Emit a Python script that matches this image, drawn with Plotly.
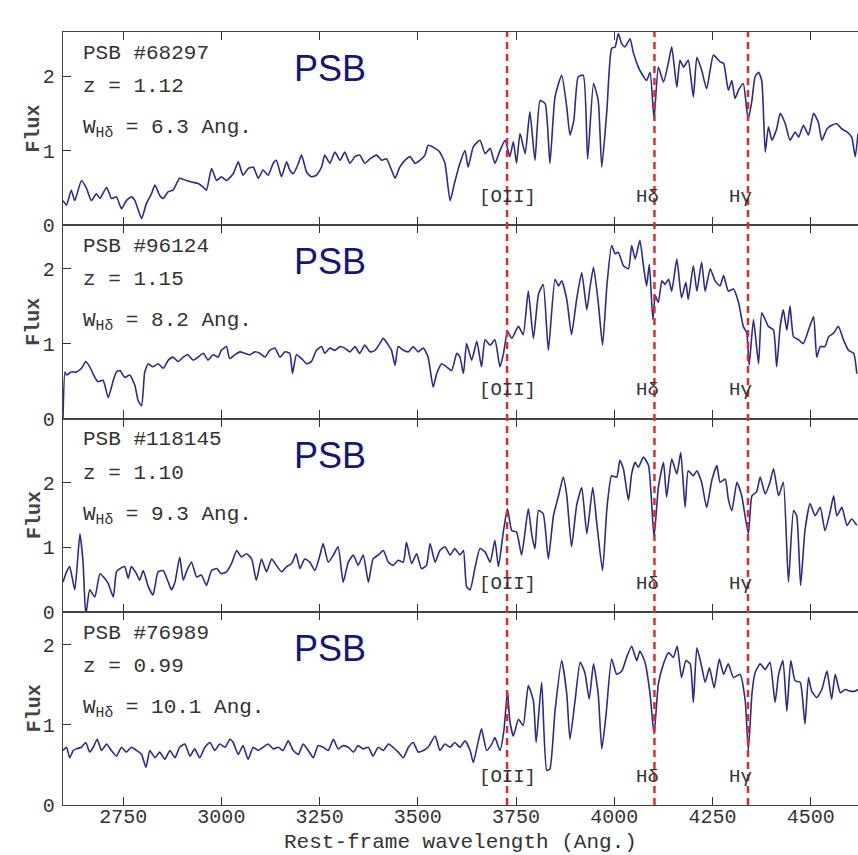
import plotly.graph_objects as go
from plotly.subplots import make_subplots

# ---------------- data ----------------
galaxy_ids = ["68297", "96124", "118145", "76989"]
redshifts = ["1.12", "1.15", "1.10", "0.99"]
w_hdelta = ["6.3", "8.2", "9.3", "10.1"]

line_names = ["[OII]", "H\u03b4", "H\u03b3"]
line_wavelengths = [3727, 4102, 4340]

x_ticks = [2750, 3000, 3250, 3500, 3750, 4000, 4250, 4500]
y_ticks = [0, 1, 2]

wl_68297 = [2597,2606,2618,2627,2644,2657,2669,2682,2691,2708,2720,2733,2746,2758,2771,2780,2797,2809,2822,2831,
            2843,2852,2865,2877,2894,2911,2924,2941,2954,2962,2975,2988,3000,3013,3030,3043,3055,3068,3081,3094,
            3106,3119,3132,3140,3153,3166,3174,3183,3196,3204,3217,3229,3242,3255,3263,3276,3289,3302,3314,3327,
            3340,3352,3365,3378,3395,3408,3420,3433,3442,3454,3467,3480,3493,3505,3518,3526,
            3544,3556,3569,3582,3594,3607,3620,3628,3641,3658,3671,3684,3696,3709,3722,3734,3743,3751,3760,3773,
            3785,3798,3811,3824,3836,3849,3866,3879,3887,3897,3908,3921,3932,3947,3959,3968,3981,3993,4002,4010,
            4019,4027,4040,4048,4061,4070,4082,4091,4101,4112,4125,4138,4146,4159,4167,4176,4188,4201,4210,4222,
            4235,4252,4269,4278,4290,4299,4307,4316,4328,4337,4341,4350,4358,4367,4375,4384,4392,4401,4413,4422,
            4435,4447,4460,4469,4481,4494,4507,4519,4528,4541,4553,4566,4579,4592,4604,4613,4620]
flux_68297 = [0.33,0.27,0.47,0.33,0.60,0.49,0.33,0.42,0.36,0.51,0.36,0.38,0.22,0.33,0.38,0.33,0.09,0.29,0.42,0.54,
              0.40,0.36,0.45,0.47,0.63,0.60,0.58,0.56,0.51,0.47,0.76,0.60,0.65,0.60,0.69,0.85,0.67,0.76,0.78,0.63,
              0.74,0.67,0.83,0.87,0.65,0.85,0.74,0.69,0.83,0.94,0.71,0.65,0.67,0.78,0.94,0.83,0.98,0.87,0.98,0.83,
              0.92,0.94,0.83,0.89,0.94,0.87,0.89,0.74,0.63,0.78,0.87,0.92,0.83,0.87,0.94,1.07,
              1.03,0.98,0.83,0.33,0.58,0.83,1.00,0.78,1.05,1.14,0.96,1.03,0.83,1.00,1.14,0.92,1.12,0.83,1.23,0.96,
              1.52,0.87,1.67,1.63,0.83,1.72,2.01,1.58,1.21,1.41,1.99,2.01,0.89,1.90,1.67,0.78,1.54,2.37,2.39,2.57,
              2.43,2.39,2.50,2.32,2.12,2.03,1.94,2.05,1.43,2.12,1.92,2.19,2.39,1.85,2.21,2.12,2.21,1.72,2.25,2.08,
              1.83,2.28,2.19,2.17,1.81,1.94,1.70,1.81,1.90,1.54,1.43,1.67,1.99,2.05,1.94,0.98,1.32,1.14,1.29,1.50,
              1.36,1.14,1.25,1.18,1.34,1.21,1.50,1.38,1.14,1.29,1.34,1.36,1.29,1.25,1.18,0.92,1.23]

wl_96124 = [2597,2602,2606,2618,2631,2644,2655,2665,2678,2686,2699,2712,2725,2733,2742,2754,2767,2780,2788,2797,
            2805,2814,2826,2839,2852,2865,2877,2890,2903,2915,2928,2941,2954,2966,2979,2992,3000,3013,3021,3034,
            3047,3060,3072,3085,3098,3111,3123,3136,3149,3162,3174,3181,3191,3204,3217,3229,3242,3255,3263,3276,
            3289,3302,3314,3327,3340,3352,3365,3378,3391,3403,3412,3425,3433,3442,3450,3463,3476,3488,3501,3514,
            3526,
            3539,3548,3561,3573,3586,3599,3607,3616,3624,3637,3650,3662,3671,3684,3696,3709,3718,3728,3739,3756,
            3768,3781,3794,3807,3819,3832,3849,3858,3866,3879,3891,3904,3917,3930,3938,3947,3959,3970,3981,3993,
            4002,4010,4023,4036,4044,4053,4065,4074,4082,4089,4098,4104,4112,4121,4129,4138,4146,4159,4171,4182,
            4188,4201,4210,4222,4231,4244,4256,4269,4278,4290,4303,4316,4328,4337,4343,4354,4367,4375,4384,4392,
            4405,4413,4422,4430,4439,4447,4456,4469,4481,4494,4507,4515,4524,4536,4545,4558,4570,4583,4596,4609,
            4617]
flux_96124 = [0.00,0.62,0.58,0.62,0.62,0.67,0.76,0.69,0.55,0.49,0.51,0.28,0.51,0.62,0.64,0.55,0.58,0.44,0.24,0.17,
              0.62,0.73,0.69,0.73,0.67,0.78,0.82,0.76,0.82,0.85,0.78,0.82,0.87,0.78,0.85,0.82,0.91,0.96,0.80,0.85,
              0.89,0.87,0.85,0.89,0.87,0.82,0.91,0.94,0.82,0.89,0.87,0.60,0.85,0.80,0.73,0.76,0.91,0.96,0.87,0.94,
              0.91,0.96,0.94,0.89,0.96,0.87,0.98,0.89,0.91,1.00,1.07,0.98,0.91,0.71,0.96,0.91,0.89,0.96,0.89,0.94,
              0.82,
              0.42,0.60,0.73,0.69,0.64,0.87,0.82,0.60,1.00,0.78,1.03,0.69,1.05,0.98,1.05,0.69,0.87,1.16,1.07,1.23,
              1.12,1.70,1.07,1.66,1.79,0.91,1.86,1.77,1.84,1.59,1.12,1.59,1.95,1.45,1.75,2.02,1.55,0.98,1.77,2.31,
              2.20,2.22,2.04,2.00,2.31,2.13,2.38,2.04,1.77,2.06,1.32,1.64,1.55,1.84,1.79,1.86,1.70,2.13,1.61,1.82,
              1.59,2.04,1.70,2.09,1.70,2.00,1.84,1.77,1.91,1.70,1.73,1.55,1.23,1.14,0.71,1.32,0.73,1.41,1.32,1.23,
              1.18,0.69,1.23,1.45,1.18,1.50,1.09,1.05,1.00,1.18,1.36,0.82,0.96,0.96,1.09,1.14,1.23,1.05,0.91,0.87,
              0.60]

wl_118145 = [2597,2606,2614,2627,2640,2648,2655,2665,2678,2691,2703,2712,2725,2733,2742,2754,2763,2771,2784,2792,
             2801,2814,2826,2839,2852,2865,2873,2882,2894,2903,2911,2924,2937,2949,2962,2975,2988,3000,3013,3026,
             3039,3051,3064,3077,3089,3102,3115,3128,3140,3153,3166,3179,3190,3200,3212,3225,3238,3251,3259,3272,
             3285,3297,3310,3323,3336,3348,3361,3374,3386,3399,3412,3425,3437,3450,3463,3471,3484,3497,3509,3522,
             3531,3544,3556,3569,3582,3594,3607,3616,3624,3633,3645,3658,3671,3684,3696,3705,3718,3728,3739,3751,
             3764,3781,3790,3798,3807,3819,3832,3845,3858,3870,3879,3891,3904,3917,3930,3945,3955,3970,3981,3993,
             4006,4014,4023,4036,4044,4053,4061,4074,4087,4101,4112,4125,4133,4146,4159,4169,4180,4188,4201,4210,
             4222,4235,4248,4261,4269,4282,4290,4299,4312,4324,4341,4350,4362,4371,4384,4396,4405,4418,4430,4443,
             4456,4464,4474,4485,4498,4511,4524,4536,4549,4558,4566,4579,4592,4604,4617]
flux_118145 = [0.46,0.62,0.70,0.34,1.21,0.77,-0.05,0.34,0.23,0.59,0.52,0.44,0.23,0.62,0.67,0.70,0.52,0.70,0.59,0.49,
               0.64,0.39,0.26,0.62,0.64,0.46,0.34,0.46,0.85,0.49,0.62,0.77,0.54,0.57,0.41,0.64,0.67,0.59,0.62,0.75,
               0.95,0.85,0.90,0.82,0.49,0.82,0.62,0.82,0.72,0.62,0.70,0.75,0.90,0.67,0.82,0.77,0.64,0.88,1.06,0.77,
               0.88,1.01,0.46,0.77,0.88,0.72,0.88,0.46,0.82,0.88,0.95,0.77,0.72,0.80,0.77,1.08,0.75,0.90,0.67,0.72,
               1.06,0.77,0.95,1.01,0.88,0.98,0.88,0.95,0.39,0.34,0.67,0.98,0.93,0.77,1.11,0.70,1.26,1.60,1.26,1.24,
               0.88,1.60,1.19,0.98,1.57,1.52,0.82,1.49,1.80,2.09,1.80,1.01,1.65,1.93,1.21,1.93,1.39,0.64,1.60,2.11,
               2.09,2.35,2.22,1.73,2.14,2.32,2.24,2.40,2.27,1.16,1.93,2.32,1.78,2.37,2.14,2.47,1.62,2.19,2.11,2.19,
               2.01,1.62,2.04,2.27,2.01,2.06,1.75,1.57,2.01,1.80,1.21,1.80,1.86,2.09,1.83,2.01,2.22,1.80,2.01,0.46,
               1.57,1.49,0.41,1.26,1.68,1.49,1.62,1.26,1.55,1.80,1.49,1.62,1.34,1.44,1.34]

wl_76989 = [2597,2606,2614,2623,2631,2644,2655,2665,2674,2684,2695,2708,2720,2733,2746,2758,2771,2784,2797,2808,
            2818,2831,2843,2856,2869,2882,2894,2907,2920,2932,2945,2958,2971,2983,2996,3009,3022,3030,3043,3055,
            3068,3081,3094,3106,3119,3132,3145,3157,3170,3183,3196,3208,3221,3234,3246,3259,3272,3285,3297,3310,
            3323,3336,3348,3361,3374,3386,3399,3412,3425,3437,3450,3463,3476,3488,3501,3514,3526,
            3544,3556,3569,3582,3594,3607,3620,3633,3641,3654,3662,3675,3688,3696,3709,3719,3728,3734,3743,3756,
            3768,3781,3794,3801,3815,3828,3836,3849,3866,3879,3887,3900,3913,3925,3936,3947,3959,3968,3979,3993,
            4006,4019,4031,4044,4057,4065,4078,4091,4101,4112,4125,4138,4150,4160,4171,4182,4193,4201,4210,4222,
            4231,4242,4254,4267,4278,4290,4303,4320,4333,4341,4350,4358,4371,4384,4396,4409,4418,4429,4439,4449,
            4460,4473,4485,4494,4502,4515,4528,4541,4553,4562,4575,4587,4600,4613,4620]
flux_76989 = [0.68,0.72,0.59,0.68,0.70,0.72,0.78,0.66,0.72,0.82,0.68,0.76,0.68,0.61,0.72,0.66,0.72,0.68,0.63,0.47,
              0.68,0.59,0.66,0.57,0.68,0.59,0.72,0.76,0.61,0.70,0.59,0.72,0.78,0.68,0.76,0.72,0.82,0.78,0.63,0.74,
              0.57,0.72,0.68,0.72,0.76,0.70,0.72,0.68,0.80,0.68,0.63,0.76,0.68,0.59,0.74,0.72,0.68,0.82,0.70,0.74,
              0.72,0.66,0.74,0.70,0.72,0.61,0.72,0.68,0.76,0.72,0.66,0.59,0.72,0.78,0.66,0.68,0.72,
              0.86,0.68,0.76,0.72,0.78,0.72,0.80,0.68,0.53,0.80,0.95,0.68,0.76,0.84,0.68,0.93,1.42,1.05,0.86,1.07,
              0.99,1.49,1.30,0.78,1.53,0.43,0.45,1.17,1.80,1.38,0.82,1.30,1.78,1.65,1.32,1.76,1.38,0.70,1.13,1.82,
              1.63,1.67,1.84,1.98,1.80,1.92,1.78,1.38,0.88,1.51,1.76,1.90,1.84,1.98,1.59,1.80,1.76,1.28,1.96,1.73,
              1.53,1.71,1.46,1.82,1.63,1.76,1.59,1.63,1.30,0.68,1.38,1.65,1.76,1.69,1.78,1.28,1.63,1.80,1.17,1.80,
              1.55,1.53,1.01,1.59,1.42,1.34,1.44,1.67,1.32,1.63,1.40,1.44,1.42,1.42,1.44]

wavelengths = [wl_68297, wl_96124, wl_118145, wl_76989]
fluxes = [flux_68297, flux_96124, flux_118145, flux_76989]

# ---------------- style ----------------
SPEC_COLOR = "#2b2b8c"
PSB_COLOR = "#15157a"
RED = "#e12b2b"
AX = "#333333"
MONO = "Liberation Mono, Courier New, monospace"
SANS = "Liberation Sans, Arial, sans-serif"
y_tops = [2.59, 2.58, 3.0, 2.41]
X_RANGE = [2597, 4620]

fig = make_subplots(rows=4, cols=1, shared_xaxes=True, vertical_spacing=0)

for i in range(4):
    fig.add_trace(go.Scatter(x=wavelengths[i], y=fluxes[i], mode="lines",
                             line=dict(color=SPEC_COLOR, width=1.6, shape="spline", smoothing=0.5),
                             hoverinfo="skip", showlegend=False), row=i + 1, col=1)

for i in range(4):
    r = i + 1
    fig.update_xaxes(range=X_RANGE, tickvals=x_ticks, ticks="inside", ticklen=8, tickwidth=1.2,
                     tickcolor=AX, showline=True, linecolor="#444444", linewidth=1.1, mirror="ticks",
                     showgrid=False, zeroline=False, showticklabels=(r == 4),
                     ticklabelstandoff=-7,
                     tickfont=dict(family=MONO, size=20, color=AX), automargin=False, row=r, col=1)
    fig.update_yaxes(range=[0, y_tops[i]], tickvals=y_ticks, ticks="inside", ticklen=8, tickwidth=1.2,
                     tickcolor=AX, showline=True, linecolor="#444444", linewidth=1.3, mirror=False,
                     showgrid=False, zeroline=False, ticklabelstandoff=3,
                     tickfont=dict(family=MONO, size=20, color=AX), automargin=False, row=r, col=1)

shapes = []
for lw in line_wavelengths:
    shapes.append(dict(type="line", xref="x", yref="paper", x0=lw, x1=lw, y0=0, y1=1,
                       line=dict(color=RED, width=2.5, dash="7px,5px"), layer="above"))

annotations = []
for i in range(4):
    yd = "y domain" if i == 0 else f"y{i+1} domain"
    xr = "x" if i == 0 else f"x{i+1}"
    annotations += [
        dict(text=f"PSB #{galaxy_ids[i]}", xref="paper", yref=yd, x=0.023, y=0.889,
             xanchor="left", yanchor="middle", showarrow=False, font=dict(family=MONO, size=21, color=AX)),
        dict(text=f"z = {redshifts[i]}", xref="paper", yref=yd, x=0.023, y=0.717,
             xanchor="left", yanchor="middle", showarrow=False, font=dict(family=MONO, size=21, color=AX)),
        dict(text=f"W<sub>H\u03b4</sub> = {w_hdelta[i]} Ang.", xref="paper", yref=yd, x=0.023, y=0.50,
             xanchor="left", yanchor="middle", showarrow=False, font=dict(family=MONO, size=21, color=AX)),
        dict(text="PSB", xref="paper", yref=yd, x=0.336, y=0.811, xanchor="center", yanchor="middle",
             showarrow=False, font=dict(family=SANS, size=36, color=PSB_COLOR)),
        dict(text="<b>Flux</b>", xref="paper", yref=yd, x=-0.0365, y=0.5, xanchor="center", yanchor="middle",
             textangle=-90, showarrow=False, font=dict(family=MONO, size=20, color="#444444")),
    ]
    for name, lw, xs in zip(line_names, line_wavelengths, [0, -7, -7]):
        annotations.append(dict(text=name, xref=xr, yref=yd, x=lw, y=0.145, xshift=xs,
                                xanchor="center", yanchor="middle", showarrow=False,
                                font=dict(family=MONO, size=19, color=AX)))

annotations.append(dict(text="Rest-frame wavelength (Ang.)", xref="paper", yref="paper", x=0.5, y=-0.049,
                        xanchor="center", yanchor="middle", showarrow=False,
                        font=dict(family=MONO, size=21, color=AX)))

fig.update_layout(template="none", width=858, height=855,
                  margin=dict(l=63, r=0, t=32, b=50),
                  paper_bgcolor="white", plot_bgcolor="white",
                  shapes=shapes, annotations=annotations, showlegend=False)

fig.write_html("out.html")
